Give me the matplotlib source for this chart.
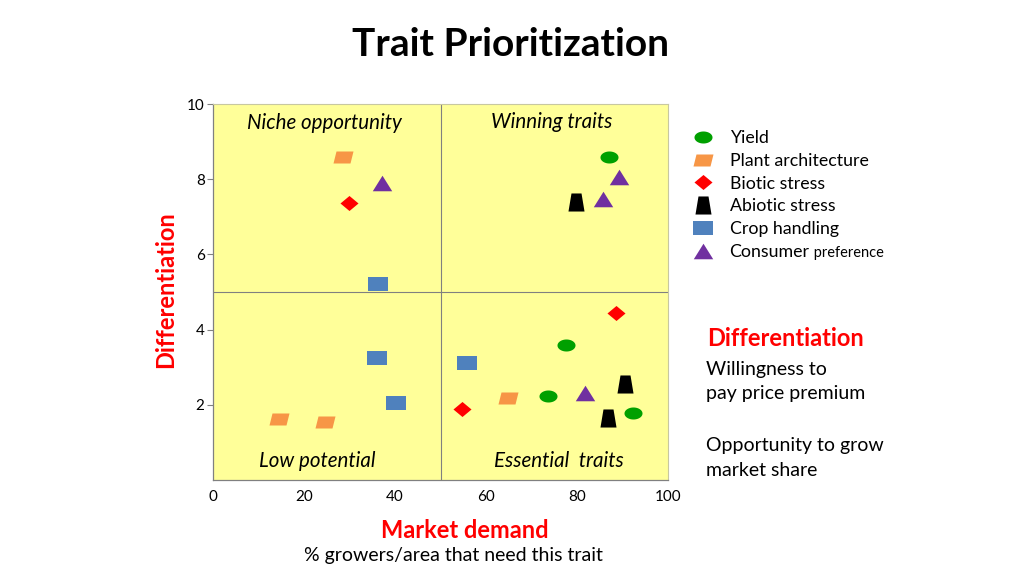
import numpy as np
import matplotlib.pyplot as plt
from matplotlib.lines import Line2D

plt.rcParams['font.family'] = ['Lato', 'DejaVu Sans']

# trait scores: (market demand %, differentiation)
yield_x = [87.0, 77.5, 73.7, 92.3]
yield_y = [8.6, 3.6, 2.24, 1.78]
arch_x = [28.5, 14.6, 24.7, 64.9]
arch_y = [8.6, 1.63, 1.55, 2.19]
biotic_x = [29.8, 88.5, 54.7]
biotic_y = [7.36, 4.45, 1.89]
abiotic_x = [79.7, 90.5, 86.8]
abiotic_y = [7.39, 2.56, 1.65]
handling_x = [36.2, 36.0, 40.2, 55.8]
handling_y = [5.2, 3.25, 2.05, 3.12]
consumer_x = [37.1, 89.2, 85.7, 81.7]
consumer_y = [7.9, 8.05, 7.47, 2.32]

x_ticks = [0, 20, 40, 60, 80, 100]
y_ticks = [2, 4, 6, 8, 10]

# custom marker shapes
t = np.linspace(0, 2 * np.pi, 40)
ellipse = np.column_stack([9 * np.cos(t), 6 * np.sin(t)])
parallelogram = [(-10, -6), (7, -6), (10, 6), (-7, 6), (-10, -6)]
diamond = [(0, -7.5), (9, 0), (0, 7.5), (-9, 0), (0, -7.5)]
trapezoid = [(-8, -9), (8, -9), (5, 9), (-5, 9), (-8, -9)]
rect = [(-9.5, -7), (9.5, -7), (9.5, 7), (-9.5, 7), (-9.5, -7)]
triangle = [(-10, -8), (10, -8), (0, 8), (-10, -8)]

series = [
    ('Yield', yield_x, yield_y, ellipse, '#00A000', 13),
    ('Plant architecture', arch_x, arch_y, parallelogram, '#F79646', 14.4),
    ('Biotic stress', biotic_x, biotic_y, diamond, '#FF0000', 13),
    ('Abiotic stress', abiotic_x, abiotic_y, trapezoid, '#000000', 13),
    ('Crop handling', handling_x, handling_y, rect, '#4F81BD', 13.7),
    ('Consumer', consumer_x, consumer_y, triangle, '#7030A0', 14),
]

fig = plt.figure(figsize=(10.24, 5.76), dpi=100)
ax = fig.add_axes([213 / 1024, 1 - 480 / 576, 455 / 1024, 376 / 576])
ax.set_facecolor('#FFFF99')
ax.set_xlim(0, 100)
ax.set_ylim(0, 10)

ax.axvline(50, color='#808080', lw=0.8, zorder=1)
ax.axhline(5, color='#808080', lw=0.8, zorder=1)

handles = []
for name, xs, ys, shape, color, size in series:
    ax.plot(xs, ys, linestyle='none', marker=shape, color=color,
            markersize=size, markeredgewidth=0, zorder=3)
    handles.append(Line2D([], [], linestyle='none', marker=shape, color=color,
                          markersize=size, markeredgewidth=0, label=name))

for side in ['top', 'right']:
    ax.spines[side].set_color('#C8C8A0')
    ax.spines[side].set_linewidth(0.8)
for side in ['left', 'bottom']:
    ax.spines[side].set_color('#808080')
    ax.spines[side].set_linewidth(0.9)

ax.set_xticks(x_ticks)
ax.set_yticks(y_ticks)
ax.tick_params(axis='x', length=0, pad=7, labelsize=11)
ax.tick_params(axis='y', length=4, pad=2, labelsize=11, color='#808080')

# quadrant labels
qfont = dict(fontsize=14.8, style='italic', ha='center', va='center')
ax.text(24.5, 9.5, 'Niche opportunity', **qfont)
ax.text(74.5, 9.52, 'Winning traits', **qfont)
ax.text(23, 0.5, 'Low potential', **qfont)
ax.text(76, 0.5, 'Essential  traits', **qfont)

fig.text(166 / 1024, 1 - 290 / 576, 'Differentiation', color='#FF0000', fontsize=17,
         fontweight='bold', rotation=90, ha='center', va='center')
fig.text(465 / 1024, 1 - 530 / 576, 'Market demand', color='#FF0000', fontsize=17,
         fontweight='bold', ha='center', va='center')
fig.text(453 / 1024, 1 - 556 / 576, '% growers/area that need this trait', fontsize=14,
         ha='center', va='center')

fig.text(511 / 1024, 1 - 44 / 576, 'Trait Prioritization', fontsize=28, fontweight='bold',
         ha='center', va='center')

leg = fig.legend(handles=handles, loc='upper left', bbox_to_anchor=(683 / 1024, 1 - 123 / 576),
                 frameon=False, fontsize=12.8, labelspacing=0.38, handletextpad=0.72,
                 handlelength=1.5, borderaxespad=0)
fig.canvas.draw()
last = leg.get_texts()[-1]
bb = last.get_window_extent()
fig.text(bb.x1 / 1024, bb.y0 / 576, ' preference', fontsize=10.5, va='bottom', ha='left')

fig.text(707 / 1024, 1 - 338 / 576, 'Differentiation', color='#FF0000', fontsize=17,
         fontweight='bold', ha='left', va='center')
fig.text(706 / 1024, 1 - 381 / 576, 'Willingness to\npay price premium', fontsize=14,
         ha='left', va='center', linespacing=1.5)
fig.text(706 / 1024, 1 - 458 / 576, 'Opportunity to grow\nmarket share', fontsize=14,
         ha='left', va='center', linespacing=1.5)

fig.savefig('out.png', dpi=100)
